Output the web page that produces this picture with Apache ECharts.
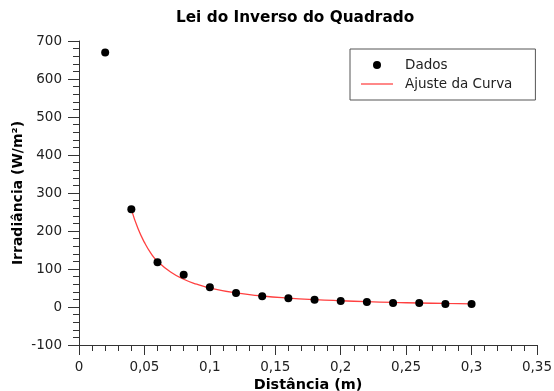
<!DOCTYPE html>
<html><head><meta charset="utf-8">
<script src="https://cdn.jsdelivr.net/npm/echarts@6/dist/echarts.min.js"></script>
<style>html,body{margin:0;padding:0;background:#fff}#c{width:554px;height:391px}</style>
</head><body><div id="c"></div>
<script>
const dataX = [0.02,0.04,0.06,0.08,0.10,0.12,0.14,0.16,0.18,0.20,0.22,0.24,0.26,0.28,0.30];
const dataY = [670,257,118,85,52,37,28,23,19,16,13,10.5,10.5,8,8];
const fitX = [0.04,0.045,0.05,0.055,0.06,0.07,0.08,0.09,0.10,0.12,0.14,0.16,0.18,0.20,0.22,0.24,0.26,0.28,0.30];
const fitY = [257,207,170,141,120,92,73,60,50,37,29,23.5,19.5,16.5,14,12,10.5,9.3,8.3];
const font = 'DejaVu Sans';
const chart = echarts.init(document.getElementById('c'), null, {renderer:'canvas'});
const fmt = v => String(+(+v).toFixed(2)).replace('.', ',');
chart.setOption({
  animation:false,
  title:{text:'Lei do Inverso do Quadrado', left:176, top:11, padding:0,
    textStyle:{fontFamily:font, fontSize:15.3, fontWeight:'bold', color:'#000'}},
  legend:{orient:'vertical', left:350, top:49, padding:[9,23,9,11],
    borderColor:'#555', borderWidth:1, itemGap:5, itemWidth:32, itemHeight:8,
    textStyle:{fontFamily:font, fontSize:13.5, color:'#222', padding:[0,0,0,7]},
    data:[{name:'Dados', icon:'circle'},{name:'Ajuste da Curva', icon:'path://M0,0 L32,0 L32,1.5 L0,1.5 Z'}]},
  grid:{left:79, right:17, top:41, bottom:46, containLabel:false, outerBoundsMode:'none'},
  xAxis:{type:'value', min:0, max:0.35, interval:0.05,
    name:'Distância (m)', nameLocation:'middle', nameGap:33, nameMoveOverlap:false,
    nameTextStyle:{fontFamily:font, fontSize:14.4, fontWeight:'bold', color:'#000'},
    axisLine:{onZero:false, lineStyle:{color:'#333', width:1}},
    axisTick:{length:10, lineStyle:{color:'#333'}},
    minorTick:{show:true, splitNumber:5, length:6, lineStyle:{color:'#333'}},
    splitLine:{show:false},
    axisLabel:{fontFamily:font, fontSize:13.5, color:'#222', margin:15, formatter:fmt}},
  yAxis:{type:'value', min:-100, max:700, interval:100,
    name:'Irradiância (W/m²)', nameLocation:'middle', nameGap:54, nameRotate:90, nameMoveOverlap:false,
    nameTextStyle:{fontFamily:font, fontSize:14, fontWeight:'bold', color:'#000'},
    axisLine:{show:true, onZero:false, lineStyle:{color:'#333', width:1}},
    axisTick:{show:true, length:11, lineStyle:{color:'#333'}},
    minorTick:{show:true, splitNumber:5, length:6, lineStyle:{color:'#333'}},
    splitLine:{show:false},
    axisLabel:{fontFamily:font, fontSize:13.5, color:'#222', margin:17}},
  series:[
    {name:'Ajuste da Curva', type:'line', smooth:true, showSymbol:false, symbol:'none',
      data:fitX.map((x,i)=>[x,fitY[i]]), lineStyle:{color:'#ff4040', width:1.3}, itemStyle:{color:'#ff6060'}, z:2},
    {name:'Dados', type:'scatter', symbolSize:8, data:dataX.map((x,i)=>[x,dataY[i]]),
      itemStyle:{color:'#000', opacity:1}, z:3}
  ]
});
</script></body></html>
